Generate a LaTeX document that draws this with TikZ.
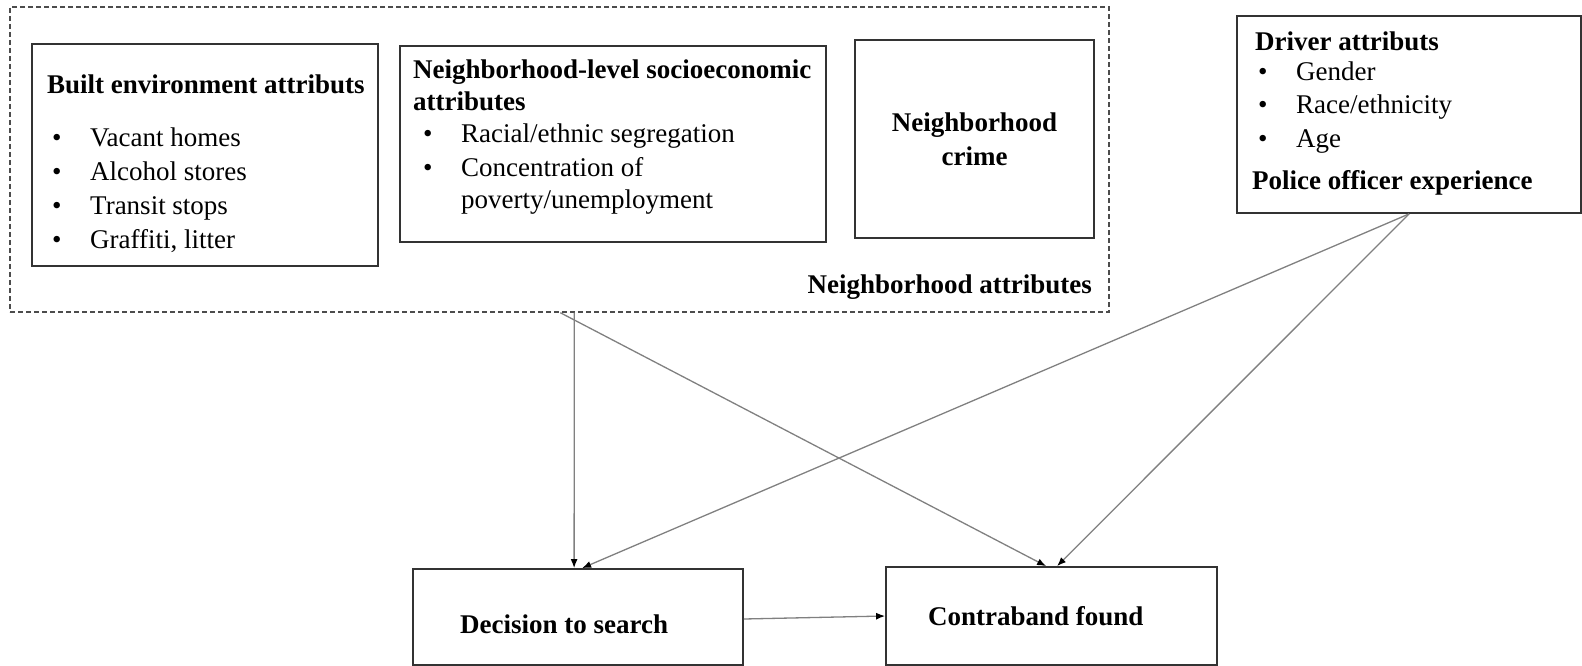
\documentclass[tikz,border=0pt]{standalone}
\usepackage{fontspec}
\setmainfont{Liberation Serif}
\usetikzlibrary{arrows.meta,fit}

\tikzset{
  box/.style={draw=black!80, line width=1.8pt, inner sep=0pt},
  dashbox/.style={draw=black!70, line width=1.4pt, dash pattern=on 5pt off 3pt, inner sep=0pt},
  txt/.style={inner sep=0pt, anchor=base west, font=\fontsize{27}{30}\selectfont},
  hd/.style={txt, font=\fontsize{27}{30}\selectfont\bfseries},
  link/.style={draw=black!50, line width=1.3pt, -{Latex[length=9pt,width=7pt,color=black]}}
}
\newcommand{\bul}{\makebox[38pt][l]{\textbullet}}

\begin{document}
\begin{tikzpicture}[x=1pt,y=-1pt]
  \useasboundingbox (0,0) rectangle (1582,666);

  % Neighborhood attributes
  \node[dashbox, fit={(10,7) (1109,312)}] (nbhd) {};
  \node[hd, anchor=base east] (nbhdlbl) at (1092,293) {Neighborhood attributes};

  \node[box, fit={(32,44) (378,266)}] (built) {};
  \node[hd] (builthd) at (47,94) {Built environment attributs};
  \foreach \t [count=\i] in {Vacant homes, Alcohol stores, Transit stops, {Graffiti, litter}}
    \node[txt] (built\i) at (52,{146.7+33.8*(\i-1)}) {\bul\t};

  \node[box, fit={(400,46) (826,242)}] (socio) {};
  \node[hd] (sociohd) at (413,78.3) {Neighborhood-level socioeconomic};
  \node[hd] (sociohdb) at (413,110.5) {attributes};
  \node[txt] (socio1) at (423,142.5) {\bul Racial/ethnic segregation};
  \node[txt] (socio2) at (423,176.5) {\bul Concentration of};
  \node[txt] (socio2b) at (461,208.5) {poverty/unemployment};

  \node[box, fit={(855,40) (1094,238)}] (crime) {};
  \node[hd, anchor=base] (crimea) at (974.5,131.7) {Neighborhood};
  \node[hd, anchor=base] (crimeb) at (974.5,165.7) {crime};

  % Driver and officer
  \node[box, fit={(1237,16) (1581,213)}] (driver) {};
  \node[hd] (driverhd) at (1255,50.7) {Driver attributs};
  \foreach \t [count=\i] in {Gender, Race/ethnicity, Age}
    \node[txt] (driver\i) at (1258,{80.7+33.3*(\i-1)}) {\bul\t};
  \node[hd] (officer) at (1252,189.3) {Police officer experience};

  % Outcomes
  \node[box, fit={(413,569) (743,665)}] (decision) {};
  \node[hd] (decisiontxt) at (460,633) {Decision to search};
  \node[box, fit={(886,567) (1217,665)}] (contra) {};
  \node[hd] (contratxt) at (928,625) {Contraband found};

  % Paths
  \draw[link] ([xshift=565pt]nbhd.south west) -- ([xshift=162pt]decision.north west);
  \draw[link] ([xshift=551pt]nbhd.south west) -- ([xshift=161pt]contra.north west);
  \draw[link] ([xshift=173pt]driver.south west) -- ([xshift=170pt]decision.north west);
  \draw[link] ([xshift=173pt]driver.south west) -- ([xshift=172pt]contra.north west);
  \draw[link] ([yshift=-2pt]decision.east) -- (contra.west);
\end{tikzpicture}
\end{document}
